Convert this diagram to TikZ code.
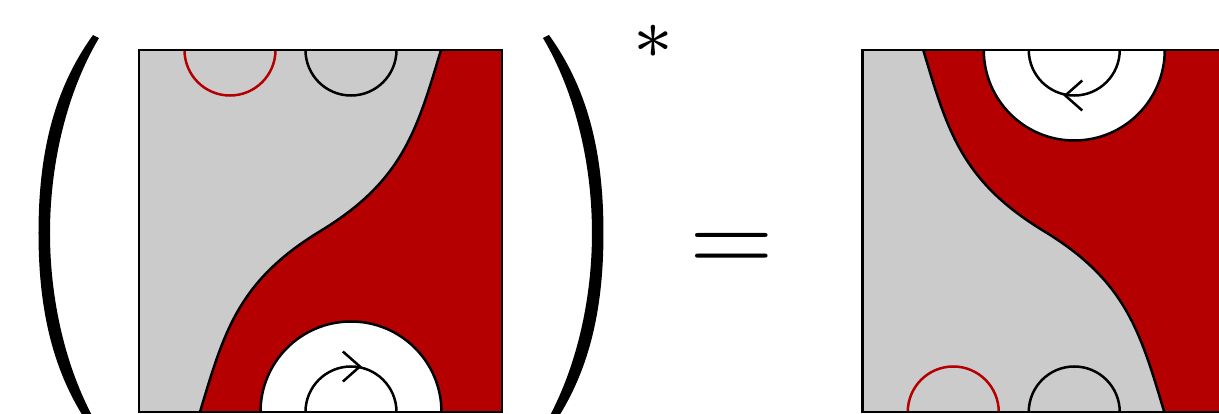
\documentclass[tikz,border=0pt]{standalone}
\usetikzlibrary{decorations.markings}
\definecolor{regred}{RGB}{180,0,0}
\definecolor{reggrey}{RGB}{203,203,203}
\tikzset{
  wire/.style={line width=0.225pt},
  chev/.style={postaction={decorate},
    decoration={markings, mark=at position 0.5 with {\draw[wire] (-8,15) -- (9,0) -- (-8,-15);}}},
  parenfill/.style={fill=black},
  lighttext/.style={inner sep=0, scale=0.8333, transform shape, font=\fontsize{12}{14}\selectfont},
}
\newcommand\planarbox[1]{%
  \fill[reggrey] (0,0) rectangle (363,362);
  \fill[regred] (363,362) -- (302,362) .. controls (278,282) and (264,231) .. (181.5,181)
     .. controls (99,131) and (85,80) .. (61,0) -- (363,0) -- cycle;
  \draw[wire] (302,362) .. controls (278,282) and (264,231) .. (181.5,181)
     .. controls (99,131) and (85,80) .. (61,0);
  \fill[white] (302.5,0) arc (0:180:90.5) -- cycle;
  \draw[wire] (302.5,0) arc (0:180:90.5);
  #1
  \draw[wire, regred] (45.5,362) arc (180:360:45.5);
  \draw[wire] (166.5,362) arc (180:360:45.5);
  \draw[wire] (0,0) rectangle (363,362);
}
\newcommand\bigparenshape{%
  \fill[parenfill] (93,379) .. controls (54,325) and (38.5,261) .. (38.5,181)
     .. controls (38.5,101) and (54,37) .. (93,-17) -- (99,-14)
     .. controls (67,40) and (50,111) .. (50,181)
     .. controls (50,251) and (67,322) .. (99,376) -- cycle;
}
\begin{document}
\begin{tikzpicture}[x=0.09pt,y=0.09pt]
\useasboundingbox (0,0) rectangle (1219,414);
\clip (0,0) rectangle (1219,414);
\begin{scope}[shift={(139,2)}]
  \planarbox{\draw[wire,chev] (166.5,0) arc (180:0:45.5);}
\end{scope}
\begin{scope}[shift={(862.3,364)}, yscale=-1]
  \planarbox{\draw[wire,chev] (257.5,0) arc (0:180:45.5);}
\end{scope}
\bigparenshape
\begin{scope}[shift={(642,0)}, xscale=-1]
  \bigparenshape
\end{scope}
\node[inner sep=0, scale=0.92, transform shape] (st) at (653,372) {$\scriptstyle\ast$};
\node[lighttext, anchor=base] (eq) at (731.5,140) {$=$};
\end{tikzpicture}
\end{document}
